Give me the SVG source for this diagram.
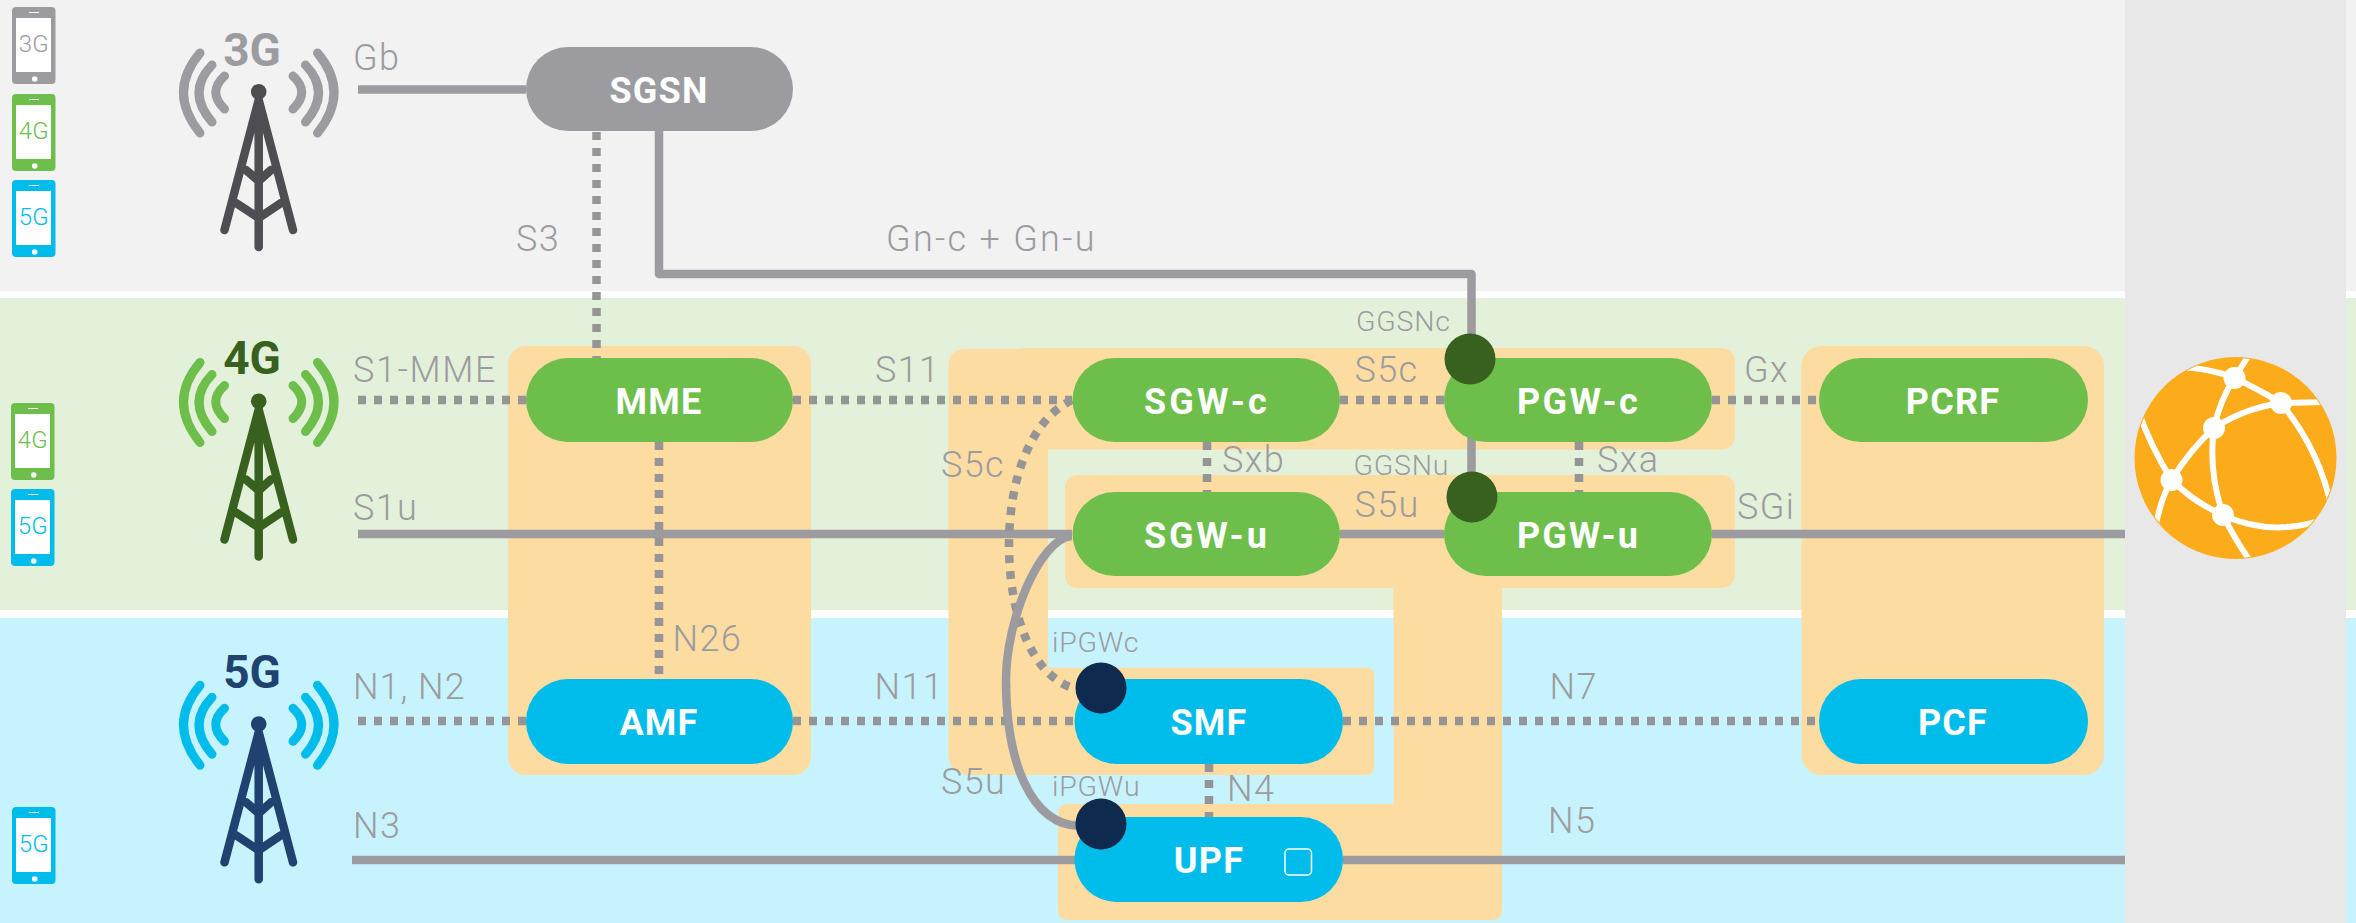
<svg xmlns="http://www.w3.org/2000/svg" xmlns:xlink="http://www.w3.org/1999/xlink" width="2356" height="923" viewBox="0 0 2356 923">
<style>
text{font-family:Roboto,"Liberation Sans",sans-serif}
.lb{font-size:36px;font-weight:300;letter-spacing:1.400px;fill:#9c9ca0}
.sm{font-size:28.500px;font-weight:300;letter-spacing:.800px;fill:#9c9ca0}
.nt{font-size:36px;font-weight:700;letter-spacing:1.200px;fill:#fff;text-anchor:middle}
.tw{font-size:46px;font-weight:700;text-anchor:middle}
.pt{font-size:24px;font-weight:300;text-anchor:middle}
.or{fill:#fddca1}
.s{fill:none;stroke:#9c9ca0;stroke-width:8.500}
.d{fill:none;stroke:#959595;stroke-width:8.500;stroke-dasharray:8 8}
.g{fill:#6dbe4b}.b{fill:#00bceb}.y{fill:#9c9ca0}
.gl{fill:none;stroke:#fff;stroke-width:6;stroke-linecap:round}
</style>
<defs>
<g id="arcs" fill="none" stroke-width="9" stroke-linecap="round">
<path d="M224.500 76Q207 92 224.500 109M212 65Q186 92 212 122M200 53Q167 92 200 133"/>
<path d="M293 76Q310.500 92 293 109M305.500 65Q331.500 92 305.500 122M317.500 53Q350.500 92 317.500 133"/>
</g>
<g id="mast" stroke-width="8.500" stroke-linecap="round" stroke-linejoin="round">
<circle cx="258.700" cy="91.700" r="7.800" stroke="none" class="mastdot"/>
<path fill="none" d="M258.700 100L224.500 230M258.700 100L293 230M258.700 100V247M246 170L258.700 181L271 170M236 203L258.700 218L281 203"/>
</g>
<g id="phone">
<rect x="12" y="0" width="43.500" height="77" rx="4"/>
<rect x="16" y="11" width="35" height="54" fill="#fff"/>
<rect x="29" y="5" width="10" height="1" fill="#fff"/>
<circle cx="34.700" cy="72" r="2.800" fill="#fff"/>
</g>
<clipPath id="gc"><circle cx="2235.500" cy="458" r="100"/></clipPath>
</defs>

<g id="bands">
<rect width="2356" height="291" fill="#f2f2f2"/>
<rect y="298" width="2356" height="312" fill="#e3f1da"/>
<rect y="618" width="2356" height="305" fill="#c7f3ff"/>
<rect y="291" width="2356" height="7" fill="#fff"/>
<rect y="610" width="2356" height="8" fill="#fff"/>
<rect x="2125" width="221" height="923" fill="#e8e8e8"/>
</g>

<g id="regions">
<rect class="or" x="508" y="346" width="303" height="429" rx="18"/>
<rect class="or" x="1801.500" y="346" width="302.500" height="429" rx="20"/>
<path class="or" d="M966 349H1020V348H1720Q1735 348 1735 363V435Q1735 449.500 1720 449.500H1048V667.700H1366Q1374 667.700 1374 675V767Q1374 775 1366 775H970Q948.500 775 948.500 753V367Q948.500 349 966 349Z"/>
<path class="or" d="M1079 475H1720Q1735 475 1735 490V573Q1735 588 1720 588H1502V910Q1502 920 1492 920H1068Q1058 920 1058 910V814Q1058 804 1068 804H1393.500V588H1079Q1065 588 1065 574V489Q1065 475 1079 475Z"/>
</g>

<g id="connectors">
<path class="s" d="M358 89.500H526"/>
<path class="d" d="M596.500 132V358"/>
<path class="s" stroke-linejoin="round" d="M659 131V274H1471.500V492"/>
<path class="d" d="M358 400H526M793 400H1072M1340 400H1444M1712 400H1819"/>
<path class="s" d="M358 534H1072M1340 534H1444M1712 534H2125"/>
<path class="d" d="M659 442V679"/>
<path class="d" d="M358 721H526M793 721H1075M1343 721H1819"/>
<path class="s" d="M352 860H1075M1343 860H2125"/>
<path class="d" d="M1207 442V492M1579 442V492M1209 764V817"/>
<path class="d" d="M1072 400C1030 420 1009 480 1009 545C1009 610 1030 680 1080 690"/>
<path class="s" d="M1072 536C1040 538 1006 620 1006 680C1006 760 1030 825 1080 826"/>
</g>

<g id="phones">
<g id="phone-3g"><use href="#phone" y="7" fill="#9c9ca0"/><text class="pt" x="33.700" y="52" fill="#9c9ca0">3G</text></g>
<g id="phone-4g-a"><use href="#phone" y="94" fill="#6dbe4b"/><text class="pt" x="33.700" y="139" fill="#6dbe4b">4G</text></g>
<g id="phone-5g-a"><use href="#phone" y="180" fill="#00bceb"/><text class="pt" x="33.700" y="225" fill="#00bceb">5G</text></g>
<g id="phone-4g-b"><use href="#phone" x="-1" y="403" fill="#6dbe4b"/><text class="pt" x="32.700" y="448" fill="#6dbe4b">4G</text></g>
<g id="phone-5g-b"><use href="#phone" x="-1" y="489" fill="#00bceb"/><text class="pt" x="32.700" y="534" fill="#00bceb">5G</text></g>
<g id="phone-5g-c"><use href="#phone" y="807" fill="#00bceb"/><text class="pt" x="33.700" y="852" fill="#00bceb">5G</text></g>
</g>

<g id="tower-3g"><use href="#arcs" stroke="#9c9ca0"/><use href="#mast" stroke="#4d4d52" fill="#4d4d52"/><text class="tw" x="252" y="65.700" fill="#9c9ca0">3G</text></g>
<g id="tower-4g"><use href="#arcs" y="309.500" stroke="#6dbe4b"/><use href="#mast" y="309.500" stroke="#38611f" fill="#38611f"/><text class="tw" x="252" y="374" fill="#38611f">4G</text></g>
<g id="tower-5g"><use href="#arcs" y="632.300" stroke="#00bceb"/><use href="#mast" y="632.300" stroke="#1f4270" fill="#1f4270"/><text class="tw" x="252" y="688" fill="#1f4270">5G</text></g>

<g id="SGSN"><rect class="y" x="526" y="47" width="267" height="84" rx="42"/><text class="nt" x="659" y="103">SGSN</text></g>
<g id="MME"><rect class="g" x="526" y="358" width="267" height="84" rx="42"/><text class="nt" x="659" y="414">MME</text></g>
<g id="AMF"><rect class="b" x="526" y="679" width="267" height="85" rx="42"/><text class="nt" x="659" y="735">AMF</text></g>
<g id="SGW-c"><rect class="g" x="1072.500" y="358" width="267.500" height="84" rx="42"/><text class="nt" x="1206" y="414" textLength="124">SGW-c</text></g>
<g id="SGW-u"><rect class="g" x="1072.500" y="492" width="267.500" height="84" rx="42"/><text class="nt" x="1206" y="548" textLength="124">SGW-u</text></g>
<g id="PGW-c"><rect class="g" x="1444" y="358" width="268" height="84" rx="42"/><text class="nt" x="1578" y="414" textLength="122">PGW-c</text></g>
<g id="PGW-u"><rect class="g" x="1444" y="492" width="268" height="84" rx="42"/><text class="nt" x="1578" y="548" textLength="122">PGW-u</text></g>
<g id="PCRF"><rect class="g" x="1819" y="358" width="269" height="84" rx="42"/><text class="nt" x="1953" y="414">PCRF</text></g>
<g id="SMF"><rect class="b" x="1074.500" y="679" width="268.500" height="85" rx="42"/><text class="nt" x="1209" y="735">SMF</text></g>
<g id="UPF"><rect class="b" x="1074.500" y="817" width="268.500" height="85" rx="42"/><text class="nt" x="1209" y="873">UPF</text><rect x="1285" y="849" width="26.500" height="26" rx="4" fill="none" stroke="#fff" stroke-width="1.500"/></g>
<g id="PCF"><rect class="b" x="1819" y="679" width="269" height="85" rx="42"/><text class="nt" x="1953" y="735">PCF</text></g>

<g id="GGSNc"><circle cx="1470" cy="359" r="25.500" fill="#38611f"/></g>
<g id="GGSNu"><circle cx="1472" cy="497" r="25.500" fill="#38611f"/></g>
<g id="iPGWc"><circle cx="1101" cy="688" r="25.500" fill="#0f2a4f"/></g>
<g id="iPGWu"><circle cx="1101" cy="824" r="25.500" fill="#0f2a4f"/></g>

<g id="globe">
<circle cx="2235.500" cy="458" r="101" fill="#fcab1a"/>
<g clip-path="url(#gc)">
<path class="gl" d="M2234.500 378L2252 350M2234.500 378Q2210 368 2178 367M2234.500 378Q2260 390 2281 403M2234.500 378Q2220 400 2214 428M2281 403L2325 402M2214 428Q2245 408 2281 403M2214 428Q2190 450 2171.500 480M2214 428Q2208 470 2223 515M2171.500 480Q2150 445 2138 410M2171.500 480Q2160 500 2155 530M2171.500 480Q2195 503 2223 515M2223 515Q2270 537 2322 520M2223 515Q2235 540 2253 565M2281 403Q2320 450 2332 510"/>
</g>
<circle cx="2234.500" cy="378" r="11" fill="#fff"/>
<circle cx="2281" cy="403" r="11" fill="#fff"/>
<circle cx="2214" cy="428" r="11" fill="#fff"/>
<circle cx="2171.500" cy="480" r="11" fill="#fff"/>
<circle cx="2223" cy="515" r="11" fill="#fff"/>
</g>

<g id="labels">
<text class="lb" x="353" y="70">Gb</text>
<text class="lb" x="516" y="251">S3</text>
<text class="lb" x="353" y="382" textLength="144">S1-MME</text>
<text class="lb" x="353" y="520">S1u</text>
<text class="lb" x="353" y="699" textLength="113">N1, N2</text>
<text class="lb" x="353" y="838">N3</text>
<text class="lb" x="672.500" y="651">N26</text>
<text class="lb" x="886" y="251" textLength="210">Gn-c + Gn-u</text>
<text class="sm" x="1356" y="331">GGSNc</text>
<text class="sm" x="1353.500" y="475">GGSNu</text>
<text class="lb" x="875" y="382">S11</text>
<text class="lb" x="1354.500" y="382">S5c</text>
<text class="lb" x="941" y="477">S5c</text>
<text class="lb" x="1222" y="472">Sxb</text>
<text class="lb" x="1354.500" y="517">S5u</text>
<text class="lb" x="1744" y="382">Gx</text>
<text class="lb" x="1597" y="472">Sxa</text>
<text class="lb" x="1737" y="519">SGi</text>
<text class="sm" x="1052" y="652">iPGWc</text>
<text class="sm" x="1052" y="796">iPGWu</text>
<text class="lb" x="874.500" y="699">N11</text>
<text class="lb" x="1549.500" y="699">N7</text>
<text class="lb" x="1548" y="833">N5</text>
<text class="lb" x="1227" y="801">N4</text>
<text class="lb" x="941" y="794">S5u</text>
</g>
</svg>
